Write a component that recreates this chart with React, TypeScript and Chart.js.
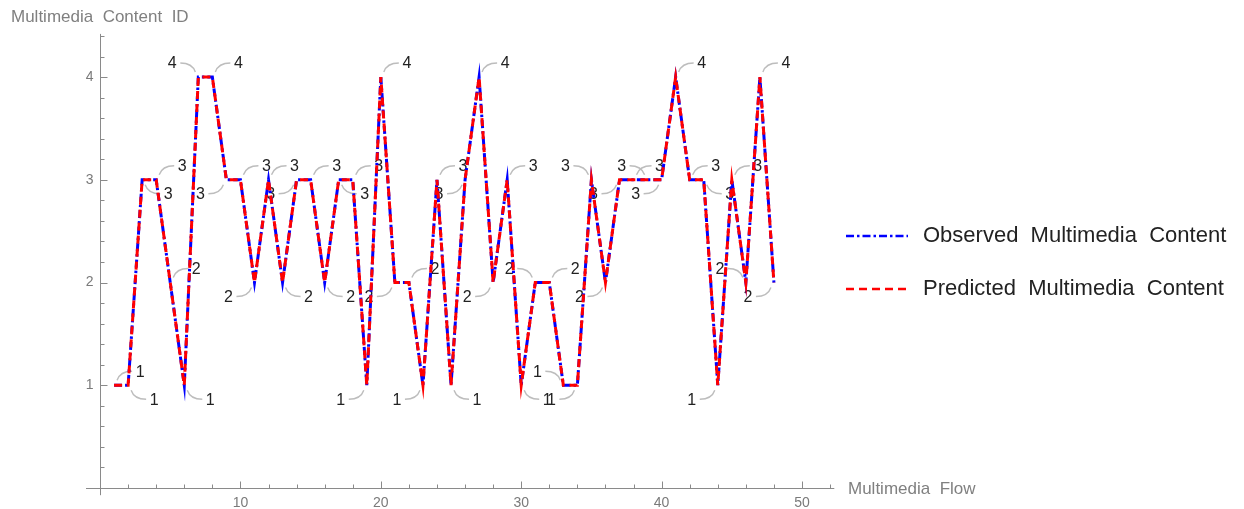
import React, { useEffect, useRef } from "react";
import { Chart, registerables } from "chart.js";

Chart.register(...registerables);

// ---------- data ----------
const flowIndex = [
  1, 2, 3, 4, 5, 6, 7, 8, 9, 10, 11, 12, 13, 14, 15, 16, 17, 18, 19, 20, 21, 22, 23, 24,
  25, 26, 27, 28, 29, 30, 31, 32, 33, 34, 35, 36, 37, 38, 39, 40, 41, 42, 43, 44, 45, 46, 47, 48,
];
const observedContent = [
  1, 1, 3, 3, 2, 1, 4, 4, 3, 3, 2, 3, 2, 3, 3, 2, 3, 3, 1, 4, 2, 2, 1, 3,
  1, 3, 4, 2, 3, 1, 2, 2, 1, 1, 3, 2, 3, 3, 3, 3, 4, 3, 3, 1, 3, 2, 4, 2,
];
const predictedContent = [
  1, 1, 3, 3, 2, 1, 4, 4, 3, 3, 2, 3, 2, 3, 3, 2, 3, 3, 1, 4, 2, 2, 1, 3,
  1, 3, 4, 2, 3, 1, 2, 2, 1, 1, 3, 2, 3, 3, 3, 3, 4, 3, 3, 1, 3, 2, 4, 2,
];
// where each callout label sits relative to its point
const labelPlacement = [
  "NE", "SE", "SE", "NE", "NE", "SE", "NW", "NE", "SW", "NE",
  "SW", "NE", "SE", "SW", "NE", "SE", "SE", "NE", "SW", "NE",
  "SW", "NE", "SW", "NE", "SE", "SW", "NE", "SW", "NE", "SE",
  "NW", "NE", "NW", "SW", "NW", "SW", "SW", "NE", "NW", "SW",
  "NE", "NE", "SE", "SW", "NE", "NW", "NE", "SW",
];
const xTickLabels = [10, 20, 30, 40, 50];
const xMinorTicks = [2, 4, 6, 8, 12, 14, 16, 18, 22, 24, 26, 28, 32, 34, 36, 38, 42, 44, 46, 48, 52];
const yTickLabels = [1, 2, 3, 4];
const yMinorTicks = [0.2, 0.4, 0.6, 0.8, 1.2, 1.4, 1.6, 1.8, 2.2, 2.4, 2.6, 2.8, 3.2, 3.4, 3.6, 3.8, 4.2, 4.4];
const xAxisRange = [-1, 52.3];
const yAxisRange = [-0.07, 4.42];
const xTitle = "Multimedia  Flow";
const yTitle = "Multimedia  Content  ID";
const seriesNames = ["Observed  Multimedia  Content", "Predicted  Multimedia  Content"];

const FONT = "'Liberation Sans', Arial, sans-serif";

const decorPlugin = {
  id: "decor",
  beforeDatasetsDraw(chart: any) {
    const { ctx, scales } = chart;
    const X = (v: number) => scales.x.getPixelForValue(v);
    const Y = (v: number) => scales.y.getPixelForValue(v);
    ctx.save();
    const x0 = Math.round(X(0)) + 0.5;
    const y0 = Math.round(Y(0)) + 0.5;

    // axes
    ctx.strokeStyle = "#8a8a8a";
    ctx.lineWidth = 1;
    ctx.beginPath();
    ctx.moveTo(X(xAxisRange[0]), y0);
    ctx.lineTo(X(xAxisRange[1]), y0);
    ctx.moveTo(x0, Y(yAxisRange[1]));
    ctx.lineTo(x0, Y(yAxisRange[0]));
    xTickLabels.forEach((v) => {
      const p = Math.round(X(v)) + 0.5;
      ctx.moveTo(p, y0);
      ctx.lineTo(p, y0 - 7);
    });
    xMinorTicks.forEach((v) => {
      const p = Math.round(X(v)) + 0.5;
      ctx.moveTo(p, y0);
      ctx.lineTo(p, y0 - 4);
    });
    yTickLabels.forEach((v) => {
      const p = Math.round(Y(v)) + 0.5;
      ctx.moveTo(x0, p);
      ctx.lineTo(x0 + 7, p);
    });
    yMinorTicks.forEach((v) => {
      const p = Math.round(Y(v)) + 0.5;
      ctx.moveTo(x0, p);
      ctx.lineTo(x0 + 4, p);
    });
    ctx.stroke();

    // tick labels
    ctx.fillStyle = "#7a7a7a";
    ctx.font = `14px ${FONT}`;
    ctx.textBaseline = "middle";
    ctx.textAlign = "center";
    xTickLabels.forEach((v) => ctx.fillText(String(v), X(v), y0 + 15));
    ctx.textAlign = "right";
    yTickLabels.forEach((v) => ctx.fillText(String(v), x0 - 7, Y(v)));

    // axis titles
    ctx.textAlign = "left";
    ctx.font = `17px ${FONT}`;
    ctx.fillStyle = "#808080";
    ctx.fillText(yTitle, 11, 17);
    ctx.fillText(xTitle, 848, y0 + 1);

    // callouts
    const meta = chart.getDatasetMeta(0);
    meta.data.forEach((pt: any, i: number) => {
      const dir = labelPlacement[i];
      const sx = dir.includes("E") ? 1 : -1;
      const sy = dir.includes("S") ? 1 : -1;
      const px = pt.x;
      const py = pt.y;
      const lx = px + sx * 26;
      const ly = py + sy * 14;
      const s0x = px + sx * 3;
      const s0y = py + sy * 5;
      const ex = lx - sx * 8;
      const ey = ly;
      ctx.strokeStyle = "#bdbdbd";
      ctx.lineWidth = 1.4;
      ctx.beginPath();
      ctx.moveTo(s0x, s0y);
      ctx.quadraticCurveTo(s0x + sx * 3, ey, ex, ey);
      ctx.stroke();
      ctx.fillStyle = "#222222";
      ctx.font = `16px ${FONT}`;
      ctx.textAlign = "center";
      ctx.textBaseline = "middle";
      ctx.fillText(String(observedContent[i]), lx, ly + 1);
    });
    ctx.restore();
    ctx.miterLimit = 12;
  },
  afterDraw(chart: any) {
    const { ctx } = chart;
    ctx.save();
    const ds = chart.data.datasets;
    [0, 1].forEach((i) => {
      const yy = 236 + i * 53;
      ctx.strokeStyle = ds[i].borderColor;
      ctx.lineWidth = 2.5;
      ctx.setLineDash(ds[i].borderDash);
      ctx.beginPath();
      ctx.moveTo(846, yy);
      ctx.lineTo(908, yy);
      ctx.stroke();
      ctx.setLineDash([]);
      ctx.fillStyle = "#222222";
      ctx.font = `22px ${FONT}`;
      ctx.textAlign = "left";
      ctx.textBaseline = "middle";
      ctx.fillText(seriesNames[i], 923, yy);
    });
    ctx.restore();
  },
};

export default function App() {
  const ref = useRef<HTMLCanvasElement>(null);
  useEffect(() => {
    const canvas = ref.current;
    if (!canvas) return;
    const chart = new Chart(canvas, {
      type: "line",
      data: {
        datasets: [
          {
            label: seriesNames[0],
            data: flowIndex.map((x, i) => ({ x, y: observedContent[i] })),
            borderColor: "#0000ff",
            borderWidth: 3,
            borderDash: [8, 3, 2.5, 3],
            borderJoinStyle: "miter",
            pointRadius: 0,
            tension: 0,
            fill: false,
            clip: false,
            order: 1,
          },
          {
            label: seriesNames[1],
            data: flowIndex.map((x, i) => ({ x, y: predictedContent[i] })),
            borderColor: "#ff0000",
            borderWidth: 3,
            borderDash: [8, 5],
            borderJoinStyle: "miter",
            pointRadius: 0,
            tension: 0,
            fill: false,
            clip: false,
            order: 0,
          },
        ],
      },
      options: {
        responsive: false,
        animation: false,
        devicePixelRatio: 1,
        layout: { padding: { left: 86, right: 409.7, top: 33.9, bottom: 13.8 } },
        scales: {
          x: { type: "linear", min: xAxisRange[0], max: xAxisRange[1], display: false },
          y: { type: "linear", min: yAxisRange[0], max: yAxisRange[1], display: false },
        },
        plugins: { legend: { display: false }, tooltip: { enabled: false } },
      },
      plugins: [decorPlugin],
    } as any);
    return () => chart.destroy();
  }, []);
  return (
    <div style={{ position: "fixed", left: 0, top: 0, width: 1244, height: 509, background: "#fff" }}>
      <canvas ref={ref} width={1244} height={509} style={{ display: "block" }} />
    </div>
  );
}
